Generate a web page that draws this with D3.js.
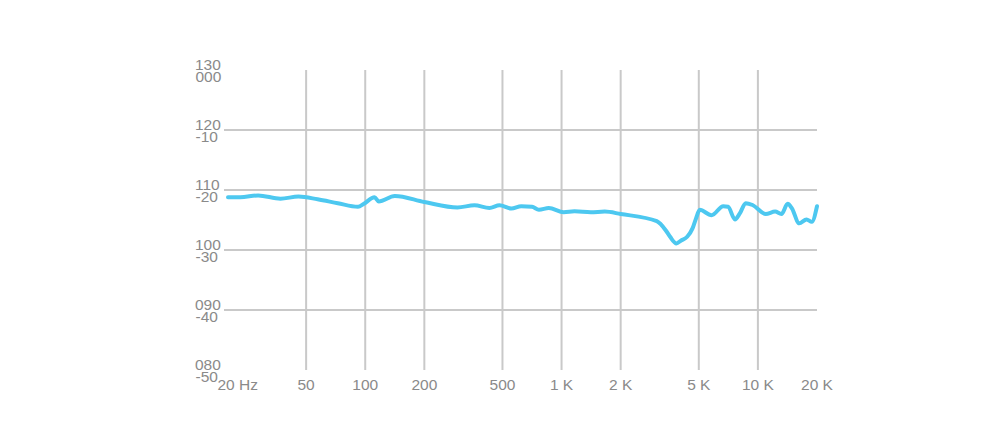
<!DOCTYPE html>
<html>
<head>
<meta charset="utf-8">
<script src="https://cdn.jsdelivr.net/npm/d3@7"></script>
<style>
  html, body { margin: 0; padding: 0; background: #fff; }
  svg { display: block; }
  text { font-family: "Liberation Sans", Arial, sans-serif; fill: #8a8a8a; }
</style>
</head>
<body>
<svg id="chart" width="1000" height="444"></svg>
<script>
// ---- data ----
const freqs = [20, 23.1, 28.5, 37, 45.7, 57.2, 72.5, 91.8, 98.5, 111.5, 117.2, 141.4, 200, 295, 360, 429, 483, 555, 623, 707, 767, 861, 1026, 1164, 1408, 1660, 2000, 3054, 3390, 3572, 3846, 4052, 4363, 4646, 4845, 5057, 5803, 6660, 7051, 7640, 8090, 8665, 9390, 10960, 12240, 13180, 14180, 14900, 16230, 17690, 18810, 20000];
const levels = [108.8, 108.8, 109.1, 108.55, 108.9, 108.45, 107.8, 107.2, 107.7, 108.8, 108.1, 109.0, 108.0, 107.1, 107.45, 107.0, 107.45, 106.9, 107.3, 107.2, 106.7, 107.0, 106.3, 106.45, 106.3, 106.4, 106.0, 104.8, 103.3, 102.2, 101.1, 101.55, 102.2, 103.6, 105.3, 106.7, 105.8, 107.3, 107.2, 105.1, 106.1, 107.8, 107.5, 106.0, 106.4, 106.0, 107.7, 106.95, 104.45, 105.1, 104.7, 107.3];

const xTickValues = [20, 50, 100, 200, 500, 1000, 2000, 5000, 10000, 20000];
const xTickLabels = ["20 Hz", "50", "100", "200", "500", "1 K", "2 K", "5 K", "10 K", "20 K"];
const yTickValues = [130, 120, 110, 100, 90, 80];
const yTickLabelsTop = ["130", "120", "110", "100", "090", "080"];
const yTickLabelsBottom = ["000", "-10", "-20", "-30", "-40", "-50"];

// ---- layout ----
const svg = d3.select("#chart");
const x = d3.scaleLog().domain([20, 20000]).range([228, 817]);
const y = d3.scaleLinear().domain([80, 130]).range([370, 70]);

const gridColor = "#c9c9c9";
const fs = 15.5;

// horizontal gridlines (inner ones only)
svg.append("g").selectAll("line")
  .data(yTickValues.filter(v => v !== 130 && v !== 80))
  .join("line")
  .attr("x1", x(20) - 4).attr("x2", x(20000))
  .attr("y1", d => y(d)).attr("y2", d => y(d))
  .attr("stroke", gridColor).attr("stroke-width", 2);

// vertical gridlines
svg.append("g").selectAll("line")
  .data(xTickValues.filter(v => v !== 20 && v !== 20000))
  .join("line")
  .attr("x1", d => x(d)).attr("x2", d => x(d))
  .attr("y1", y(130)).attr("y2", y(80))
  .attr("stroke", gridColor).attr("stroke-width", 2);

// y labels
const yl = svg.append("g");
yTickValues.forEach((v, i) => {
  yl.append("text").attr("x", 195).attr("y", y(v) - 0.5)
    .attr("font-size", fs).text(yTickLabelsTop[i]);
  yl.append("text").attr("x", 195.5).attr("y", y(v) + 12.3)
    .attr("font-size", fs).text(yTickLabelsBottom[i]);
});

// x labels
svg.append("g").selectAll("text")
  .data(xTickValues)
  .join("text")
  .attr("x", (d, i) => i === 0 ? x(d) - 10.5 : x(d))
  .attr("y", 390)
  .attr("text-anchor", (d, i) => i === 0 ? "start" : "middle")
  .attr("font-size", fs)
  .text((d, i) => xTickLabels[i]);

// response curve
const pts = freqs.map((f, i) => [f, levels[i]]);
const line = d3.line()
  .x(d => x(d[0]))
  .y(d => y(d[1]))
  .curve(d3.curveMonotoneX);

svg.append("path")
  .datum(pts)
  .attr("d", line)
  .attr("fill", "none")
  .attr("stroke", "#4dc8f0")
  .attr("stroke-width", 4)
  .attr("stroke-linejoin", "round")
  .attr("stroke-linecap", "round");
</script>
</body>
</html>
